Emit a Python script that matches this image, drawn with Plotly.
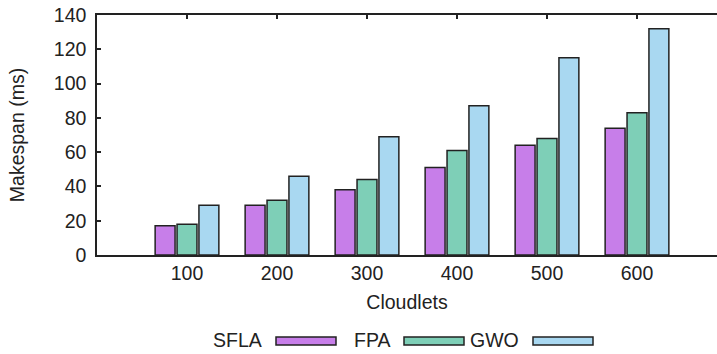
import plotly.graph_objects as go

categories = ["100", "200", "300", "400", "500", "600"]
series_names = ["SFLA", "FPA", "GWO"]
sfla = [17, 29, 38, 51, 64, 74]
fpa = [18, 32, 44, 61, 68, 83]
gwo = [29, 46, 69, 87, 115, 132]
y_ticks = [0, 20, 40, 60, 80, 100, 120, 140]
colors = ["#C77EE9", "#7ECFB7", "#A9D8F1"]

series_values = [sfla, fpa, gwo]
x_pos = list(range(1, len(categories) + 1))

W, H = 717, 354
ML, MT, MB, MR = 97, 15, 99, 0
PW = W - ML - MR
PH = H - MT - MB
SLOT = 90.0

FONT = "Liberation Sans, Arial, sans-serif"
FS = 19.5

fig = go.Figure()
for name, vals, col in zip(series_names, series_values, colors):
    fig.add_trace(go.Bar(
        x=x_pos, y=vals, name=name,
        marker=dict(color=col, line=dict(color="#222222", width=1.5)),
        showlegend=False,
    ))

def px_x(px):
    return (px - ML) / PW

def px_y(py):
    return (H - MB - py) / PH

# legend: label followed by swatch
legend_items = [(213, 276), (345, 404), (469, 533)]
shapes = []
annotations = []
for (tx, sx), name, col in zip(legend_items, series_names, colors):
    annotations.append(dict(
        x=px_x(sx - 12), y=px_y(340), xref="paper", yref="paper",
        text=name, showarrow=False, xanchor="right", yanchor="middle",
        font=dict(family=FONT, size=FS, color="#222222"),
    ))
    shapes.append(dict(
        type="rect", xref="paper", yref="paper",
        x0=px_x(sx), x1=px_x(sx + 60), y0=px_y(345), y1=px_y(337),
        fillcolor=col, line=dict(color="#222222", width=1.5),
    ))

fig.update_layout(
    width=W, height=H,
    margin=dict(l=ML, r=MR, t=MT, b=MB, pad=0, autoexpand=False),
    barmode="group", bargap=0.27, bargroupgap=0.09,
    plot_bgcolor="white", paper_bgcolor="white",
    font=dict(family=FONT, size=FS, color="#222222"),
    shapes=shapes, annotations=annotations,
    showlegend=False,
)
fig.update_xaxes(
    range=[0, PW / SLOT], tickvals=x_pos, ticktext=categories,
    showline=True, linecolor="#222222", linewidth=1.5, mirror="allticks",
    ticks="inside", ticklen=4, tickcolor="#222222", tickwidth=1.5,
    showgrid=False, zeroline=False, layer="below traces", automargin=False,
    title=dict(text="Cloudlets", standoff=12, font=dict(size=FS)),
    tickfont=dict(size=FS),
)
fig.update_yaxes(
    range=[0, 140], tickvals=y_ticks,
    showline=True, linecolor="#222222", linewidth=1.5, mirror=False,
    ticks="inside", ticklen=4, tickcolor="#222222", tickwidth=1.5,
    showgrid=False, zeroline=False, layer="below traces", automargin=False,
    ticklabelstandoff=5,
    title=dict(text="Makespan (ms)", standoff=24, font=dict(size=FS)),
    tickfont=dict(size=FS),
)

fig.write_html("out.html", config={"displayModeBar": False},
               post_script="document.body.style.margin='0';")
